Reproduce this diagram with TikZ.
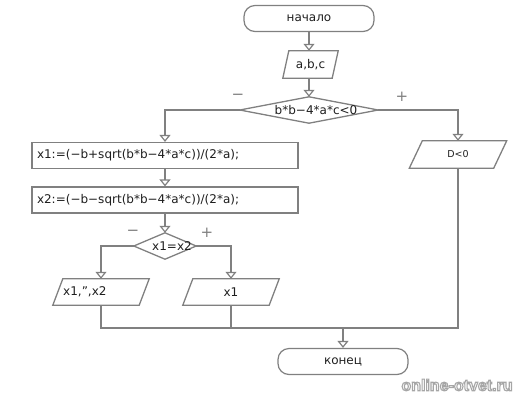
\documentclass[tikz,border=0pt]{standalone}
\usepackage{fontspec}
\setmainfont{DejaVu Sans}
\newfontfamily\wmfont{Liberation Sans}
\usetikzlibrary{arrows.meta,calc}
\definecolor{linegray}{RGB}{128,128,128}
\definecolor{txt}{RGB}{30,30,30}
\tikzset{
  ln/.style={draw=linegray, line width=1.3pt},
  arr/.style={ln, -{Triangle[open, width=11pt, length=7pt, line width=1.2pt]}},
  mainfont/.style={font=\fontsize{12}{14}\selectfont, text=txt},
  term/.style={draw=linegray, line width=1.2pt, rounded corners=11pt, minimum width=130pt, minimum height=26pt, inner sep=0pt, mainfont},
  procbox/.style={draw=linegray, line width=1.2pt, minimum height=26pt, inner xsep=5pt, inner ysep=0pt, text width=256pt, align=left, mainfont},
  holder/.style={draw=none, inner sep=0pt, mainfont},
  lbl/.style={font=\fontsize{15}{15}\selectfont, text=linegray, inner sep=0pt},
  wm/.style={font=\wmfont\bfseries\fontsize{16}{16}\selectfont, inner sep=0pt}
}
\newcommand{\parashape}[2]{\draw[ln] ([xshift=#2]#1.north west) -- (#1.north east) -- ([xshift=-#2]#1.south east) -- (#1.south west) -- cycle;}
\newcommand{\diashape}[1]{\draw[ln] (#1.north) -- (#1.east) -- (#1.south) -- (#1.west) -- cycle;}
\begin{document}
\begin{tikzpicture}[x=1pt,y=-1pt]
\useasboundingbox (0,0) rectangle (532,400);
% nodes
\node[term] (start) at (309,18.5) {начало};
\node[holder, minimum width=55pt, minimum height=27pt] (inp) at (310.5,64.5) {a,b,c};
\parashape{inp}{6pt}
\node[holder, minimum width=138pt, minimum height=26pt] (d1) at (309,110) {};
\diashape{d1}
\node[holder] (d1t) at (316,110) {b*b−4*a*c<0};
\node[procbox] (box1) at (165,155.5) {x1:=(−b+sqrt(b*b−4*a*c))/(2*a);};
\node[procbox] (box2) at (165,200) {x2:=(−b−sqrt(b*b−4*a*c))/(2*a);};
\node[holder, minimum width=62pt, minimum height=26pt] (d2) at (165,246) {};
\diashape{d2}
\node[holder] (d2t) at (172,246) {x1=x2};
\node[holder, minimum width=96pt, minimum height=26pt] (o1) at (101,292) {};
\parashape{o1}{10pt}
\node[holder, anchor=west] (o1t) at (63,292) {x1,",x2};
\node[holder, minimum width=96pt, minimum height=26pt] (o2) at (231,292) {x1};
\parashape{o2}{10pt}
\node[holder, minimum width=97pt, minimum height=27pt, font=\fontsize{9.5}{11}\selectfont] (D) at (458,154.5) {D<0};
\parashape{D}{13pt}
\node[term] (end) at (343,361.5) {конец};
% labels
\node[lbl] (m1) at (238,97) {−};
\node[lbl] (p1) at (402,97) {+};
\node[lbl] (m2) at (133,233) {−};
\node[lbl] (p2) at (207,233) {+};
% connectors
\draw[arr] (start.south) -- (start.south |- inp.north);
\draw[arr] (d1.north |- inp.south) -- (d1.north);
\draw[arr] (d1.west) -| (box1.north);
\draw[arr] (d1.east) -| (D.north);
\draw[arr] (box1.south) -- (box2.north);
\draw[arr] (box2.south) -- (box2.south |- d2.north);
\draw[arr] (d2.west) -| (o1.north);
\draw[arr] (d2.east) -| (o2.north);
\coordinate (mr) at (458,328);
\coordinate (m) at (343,328);
\draw[ln] (o1.south) |- (mr) -- (D.south);
\draw[ln] (o2.south) -- (o2.south |- mr);
\draw[arr] (m) -- (end.north);
% watermark: white letters with a grey outline
\node[wm] (wm) at (457,385) {\color{white}\special{pdf:literal direct 2 Tr 1.1 w 0.65 G}online-otvet.ru\special{pdf:literal direct 0 Tr 0 G}};
\end{tikzpicture}
\end{document}
